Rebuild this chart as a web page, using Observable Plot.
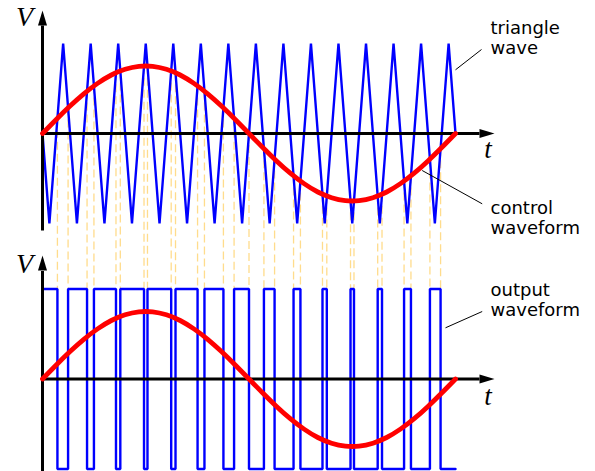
<!DOCTYPE html>
<html>
<head>
<meta charset="utf-8">
<script src="https://cdn.jsdelivr.net/npm/d3@7"></script>
<script src="https://cdn.jsdelivr.net/npm/@observablehq/plot@0.6"></script>
<style>
  html, body { margin: 0; padding: 0; background: #fff; }
  #chart { width: 595px; height: 471px; }
</style>
</head>
<body>
<div id="chart"></div>
<script>
// ---- Data (time in triangle periods, voltage in triangle amplitudes) ----
const sineT = [0,0.5,1,1.5,2,2.5,3,3.5,4,4.5,5,5.5,6,6.5,7,7.5,8,8.5,9,9.5,10,10.5,11,11.5,12,12.5,13,13.5,14,14.5,15];
const sineV = [0,0.156,0.305,0.441,0.557,0.650,0.713,0.746,0.746,0.713,0.650,0.557,0.441,0.305,0.156,0,
  -0.156,-0.305,-0.441,-0.557,-0.650,-0.713,-0.746,-0.746,-0.713,-0.650,-0.557,-0.441,-0.305,-0.156,0];

const triT = [0,0.25,0.75,1.25,1.75,2.25,2.75,3.25,3.75,4.25,4.75,5.25,5.75,6.25,6.75,7.25,7.75,
  8.25,8.75,9.25,9.75,10.25,10.75,11.25,11.75,12.25,12.75,13.25,13.75,14.25,14.75,15];
const triV = [0,-1,1,-1,1,-1,1,-1,1,-1,1,-1,1,-1,1,-1,1,-1,1,-1,1,-1,1,-1,1,-1,1,-1,1,-1,1,0];

const switchT = [0,0.542,0.929,1.618,1.868,2.669,2.826,3.687,3.813,4.674,4.831,5.632,5.882,6.571,6.958,7.5,
  8.042,8.429,9.118,9.368,10.169,10.326,11.187,11.313,12.174,12.331,13.132,13.382,14.071,14.458,15];
const outLevel = [1,-1,1,-1,1,-1,1,-1,1,-1,1,-1,1,-1,1,-1,1,-1,1,-1,1,-1,1,-1,1,-1,1,-1,1,-1,-1];

const crossT = [0.542,0.929,1.618,1.868,2.669,2.826,3.687,3.813,4.674,4.831,5.632,5.882,6.571,6.958,7.5,
  8.042,8.429,9.118,9.368,10.169,10.326,11.187,11.313,12.174,12.331,13.132,13.382,14.071,14.458];
const crossV = [0.169,0.284,0.472,0.528,0.676,0.695,0.748,0.748,0.695,0.676,0.528,0.472,0.284,0.169,0,
  -0.169,-0.284,-0.472,-0.528,-0.676,-0.695,-0.748,-0.748,-0.695,-0.676,-0.528,-0.472,-0.284,-0.169];

const labels = ["triangle\nwave", "control\nwaveform", "output\nwaveform"];
const axisLabelV = "V";
const axisLabelT = "t";

// ---- Layout ----
const W = 595, H = 471;
const X0 = 42, X1 = 455;          // pixel range of t = 0 .. 15
const PXU = (X1 - X0) / 15;       // pixels per triangle period
const ZERO_B = 378.5, UNIT = 90;  // bottom panel zero line, pixels per unit
const TOP = (ZERO_B - 133) / UNIT; // vertical offset of the top panel
const U = px => (px - X0) / PXU;
const Y = py => (ZERO_B - py) / UNIT;

const sine = sineT.map((t, i) => ({t, v: sineV[i]}));
const tri = triT.map((t, i) => ({t, v: triV[i]}));
const out = switchT.map((t, i) => ({t, v: outLevel[i]}));
const cross = crossT.map((t, i) => ({t, v: crossV[i]}));

const axes = [
  {x1: 0, y1: TOP + Y(230) - Y(133), x2: 0, y2: TOP + 1.2},   // top V axis
  {x1: 0, y1: TOP, x2: U(479), y2: TOP},                     // top t axis
  {x1: 0, y1: Y(475), x2: 0, y2: 1.2},                      // bottom V axis
  {x1: 0, y1: 0, x2: U(479), y2: 0}                          // bottom t axis
];
const arrowsUp = [{x: 0, y: TOP + 1.367}, {x: 0, y: 1.372}];
const arrowsRight = [{x: U(494), y: TOP}, {x: U(494), y: 0}];

const arrowUp = {draw(ctx) { ctx.moveTo(0, 0); ctx.lineTo(4.5, 15); ctx.lineTo(-4.5, 15); ctx.closePath(); }};
const arrowRight = {draw(ctx) { ctx.moveTo(0, 0); ctx.lineTo(-15, -4.5); ctx.lineTo(-15, 4.5); ctx.closePath(); }};

const notes = [
  {text: labels[0], x: U(490), y: Y(53), lx1: U(481), ly1: Y(49), lx2: U(455), ly2: Y(69.3)},
  {text: labels[1], x: U(490), y: Y(233), lx1: U(481.7), ly1: Y(203.3), lx2: U(421.7), ly2: Y(170)},
  {text: labels[2], x: U(490), y: Y(315), lx1: U(481.7), ly1: Y(311), lx2: U(445), ly2: Y(327.3)}
];
const vLabels = [{x: U(24), y: Y(25)}, {x: U(24), y: Y(272)}];
const tLabels = [{x: U(487.5), y: Y(157)}, {x: U(487.5), y: Y(404)}];

const RED = "#ff0000", BLUE = "#0000ff", DASH = "#ffdc8c";

const chart = Plot.plot({
  width: W, height: H,
  marginTop: 0, marginRight: 0, marginBottom: 0, marginLeft: 0,
  x: {domain: [0, 15], range: [X0, X1], axis: null},
  y: {domain: [Y(H), Y(0)], range: [H, 0], axis: null},
  style: {background: "#fff", overflow: "visible"},
  marks: [
    // dashed guides from the top-panel intersections down to the output pulses
    Plot.ruleX(cross, {x: "t", y1: d => d.v + TOP, y2: 1, stroke: DASH, strokeWidth: 1.3, strokeDasharray: "8,4"}),
    // triangle wave (top)
    Plot.line(tri, {x: "t", y: d => d.v + TOP, stroke: BLUE, strokeWidth: 2.4, strokeLinejoin: "miter"}),
    // output waveform (bottom)
    Plot.line(out, {x: "t", y: "v", curve: "step-after", stroke: BLUE, strokeWidth: 2.4, strokeLinejoin: "miter"}),
    // axes
    Plot.link(axes, {x1: "x1", y1: "y1", x2: "x2", y2: "y2", stroke: "black", strokeWidth: 3}),
    Plot.dot(arrowsUp, {x: "x", y: "y", symbol: arrowUp, fill: "black", stroke: "none"}),
    Plot.dot(arrowsRight, {x: "x", y: "y", symbol: arrowRight, fill: "black", stroke: "none"}),
    // control waveform in both panels
    Plot.line(sine, {x: "t", y: d => d.v + TOP, curve: "natural", stroke: RED, strokeWidth: 4.8}),
    Plot.line(sine, {x: "t", y: "v", curve: "natural", stroke: RED, strokeWidth: 4.8}),
    // axis letters
    Plot.text(vLabels, {x: "x", y: "y", text: () => axisLabelV, lineAnchor: "bottom", textAnchor: "middle",
      fontFamily: "'Liberation Serif', 'Times New Roman', serif", fontStyle: "italic", fontSize: 28, fill: "black"}),
    Plot.text(tLabels, {x: "x", y: "y", text: () => axisLabelT, lineAnchor: "bottom", textAnchor: "middle",
      fontFamily: "'Liberation Serif', 'Times New Roman', serif", fontStyle: "italic", fontSize: 27, fill: "black"}),
    // annotations
    Plot.link(notes, {x1: "lx1", y1: "ly1", x2: "lx2", y2: "ly2", stroke: "black", strokeWidth: 1}),
    Plot.text(notes, {x: "x", y: "y", text: "text", lineAnchor: "bottom", textAnchor: "start", lineHeight: 1.111,
      fontFamily: "'DejaVu Sans', sans-serif", fontSize: 18, fill: "black"})
  ]
});
document.getElementById("chart").appendChild(chart);
</script>
</body>
</html>
